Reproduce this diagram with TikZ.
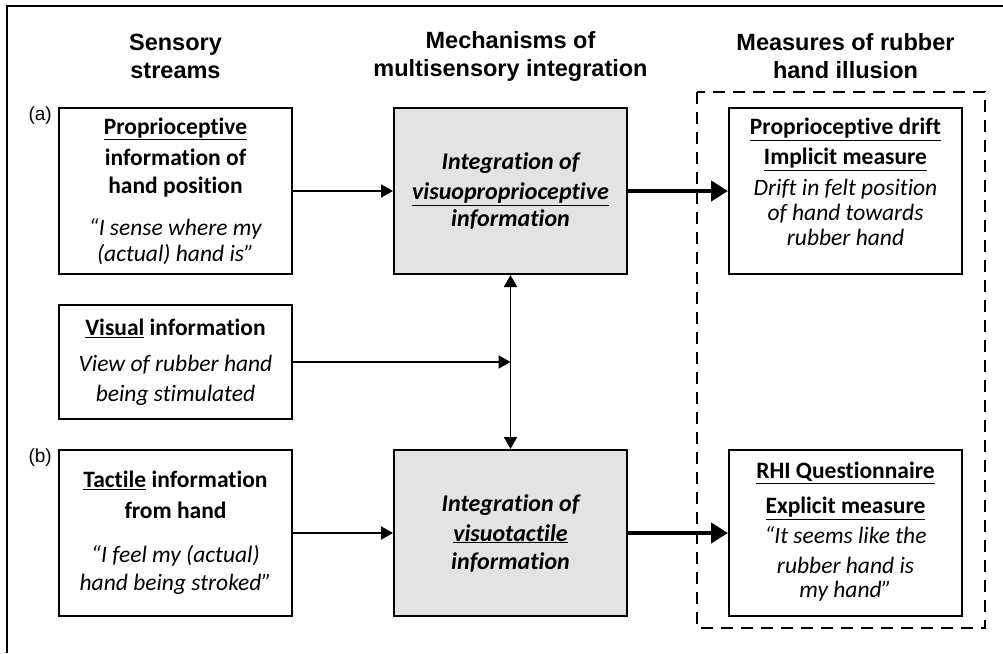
\documentclass[tikz,border=0pt]{standalone}
\usepackage{fontspec}
\setmainfont{Carlito}[Ligatures={TeX,NoCommon}]
\newfontfamily\headfont{Liberation Sans}
\usetikzlibrary{arrows.meta,positioning}

\begin{document}
\begin{tikzpicture}[x=1pt,y=-1pt,
    box/.style={draw,line width=2pt,minimum width=233pt,minimum height=166pt,inner sep=0pt,align=center,
      font=\fontsize{23.5}{28}\selectfont},
    smallbox/.style={box,minimum height=114pt},
    mechbox/.style={box,fill=gray!22,font=\fontsize{24}{28}\selectfont\bfseries\itshape},
    head/.style={align=center,inner sep=0pt,font=\headfont\bfseries\fontsize{23.5}{28}\selectfont},
    tag/.style={inner sep=0pt,anchor=north east,font=\headfont\fontsize{19}{20}\selectfont},
    link/.style={line width=1.8pt,-{Triangle[length=12pt,width=13pt]}},
    both link/.style={line width=1.8pt,{Triangle[length=12pt,width=13pt]}-{Triangle[length=12pt,width=13pt]}},
    bold link/.style={line width=4.5pt,-{Triangle[length=17pt,width=20pt]}},
    group/.style={draw,line width=2.5pt,dash pattern=on 12pt off 8pt}]
  \useasboundingbox (0,0) rectangle (1003,653);
  \draw[line width=2pt] (1003,6) -- (7,6) -- (7,653);

  % sensory streams
  \node[box] (prop) at (175.5,191) {\textbf{\underline{Proprioceptive}}\\[3pt]
    \textbf{information of}\\ \textbf{hand position}\\[14pt]
    \textit{“I sense where my}\\[-2pt] \textit{(actual) hand is”}};
  \node[smallbox,below=29pt of prop] (vis) {\textbf{\underline{Visual} information}\\[8pt]
    \textit{View of rubber hand}\\[2pt] \textit{being stimulated}};
  \node[box,below=29pt of vis] (tact) {\textbf{\underline{Tactile} information}\\[3pt]
    \textbf{from hand}\\[16pt]
    \textit{“I feel my (actual)}\\ \textit{hand being stroked”}};
  \node[tag] (taga) at ([xshift=-6pt]prop.north west) {(a)};
  \node[tag] (tagb) at ([xshift=-6pt]tact.north west) {(b)};

  % integration
  \node[mechbox,right=100pt of prop] (integ1) {Integration of\\[2pt] \underline{visuoproprioceptive}\\[-1pt] information};
  \node[mechbox,right=100pt of tact] (integ2) {Integration of\\[2pt] \underline{visuotactile}\\ information};

  % measures
  \node[box,right=100pt of integ1] (meas1) {\textbf{\underline{Proprioceptive drift}}\\[2pt]
    \textbf{\underline{Implicit measure}}\\[3pt]
    \textit{Drift in felt position}\\[-3pt] \textit{of hand towards}\\[-3pt] \textit{rubber hand}\\[-10pt]};
  \node[box,right=100pt of integ2] (meas2) {\textbf{\underline{RHI Questionnaire}}\\[7pt]
    \textbf{\underline{Explicit measure}}\\[2pt]
    \textit{“It seems like the}\\[2pt] \textit{rubber hand is}\\[-4pt] \textit{my hand”}\\[-22pt]};
  \draw[group] (697,92) rectangle (985,628);

  % column titles
  \node[head] (hsens) at (prop.north |- 0,56) {Sensory\\ streams};
  \node[head] (hmech) at (integ1.north |- 0,56) {Mechanisms of\\ multisensory integration};
  \node[head] (hmeas) at (meas1.north |- 0,56) {Measures of rubber\\ hand illusion};

  % connectors
  \draw[link] (prop) -- (integ1);
  \draw[link] (tact) -- (integ2);
  \draw[both link] (integ2) -- (integ1);
  \draw[link] (vis) -- (vis -| integ1);
  \draw[bold link] (integ1) -- (meas1);
  \draw[bold link] (integ2) -- (meas2);
\end{tikzpicture}
\end{document}
